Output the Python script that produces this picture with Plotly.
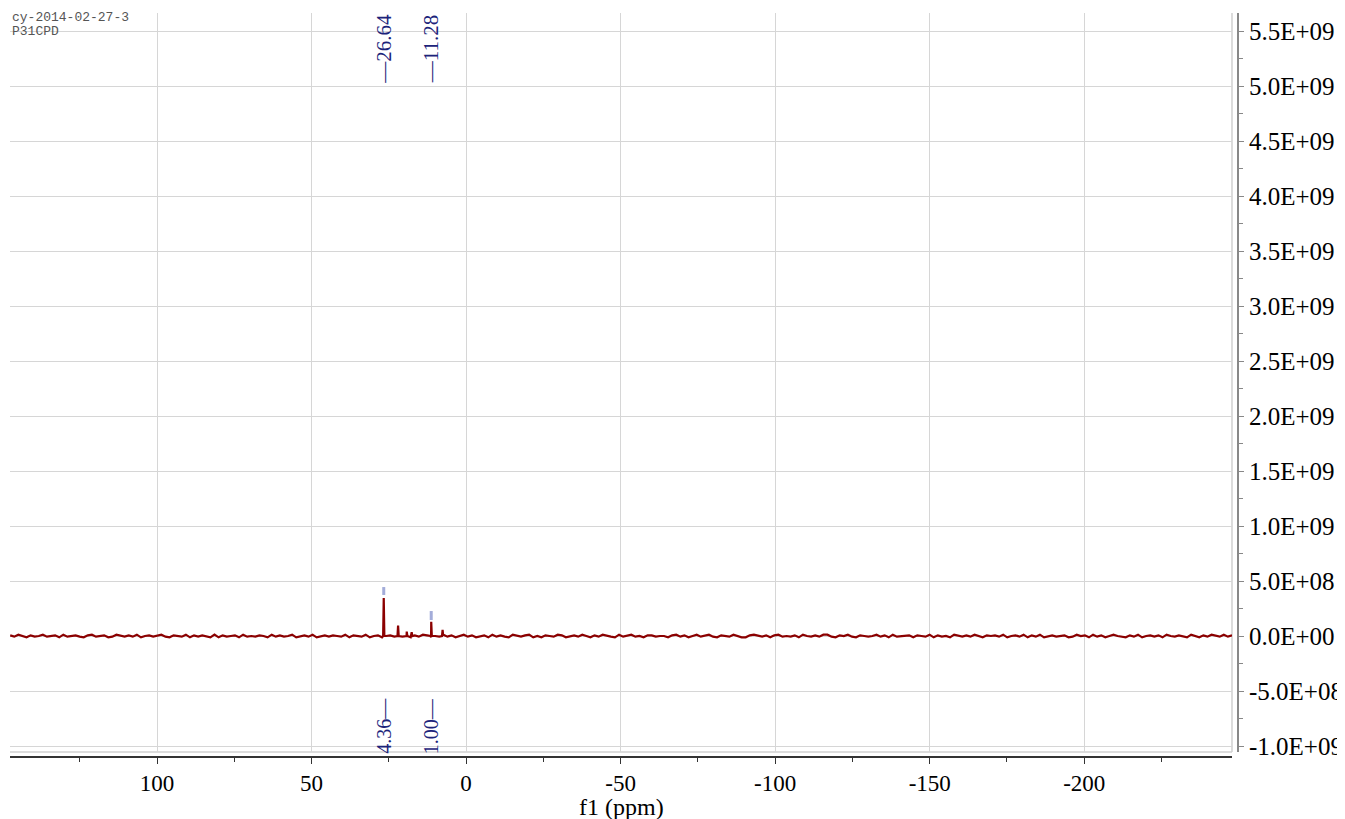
import numpy as np
import plotly.graph_objects as go

# ---------------- data ----------------
# baseline noise (units of 6e6)
noise_units = 6e6
noise_vals = [
    1, -1, 2, 0, -2, 1, -1, 0, 2, -1,
    0, 1, -2, 2, -1, 0, 1, -1, -2, 1,
    2, -1, 0, 1, -2, -1, 2, 0, -1, 1,
    -1, 2, -2, 0, 1, -1, 0, 2, -1, -2,
    1, 0, -1, 2, -2, 1, -1, 1, 0, -2,
    2, -2, 1, -1, 0, 1, -2, 2, -1, 0,
    -1, 1, 0, -2, 2, -1, 1, -1, 0, 2,
    -2, 0, 1, -1, 2, -2, 0, 1, -1, 1,
    0, -1, 2, -2, 1, 0, -1, 2, -2, 0,
    1, -2, 0, 1, -1, 2, -1, 0, -2, 1,
    -1, 2, 1, -2, 0, -1, 2, -1, 1, -2,
    0, 2, -1, 1, -2, 0, 1, -2, 2, -1,
    1, -1, -2, 2, 0, -1, 1, 2, -2, 0,
    -2, 1, 0, -1, 2, 1, -2, 0, 1, -1,
    2, 0, -2, 1, -1, 2, 0, -1, -2, 2,
    -1, 1, 2, -1, 0, -2, 1, 1, -1, 0,
    0, -2, 1, 2, -1, 1, -2, 0, 2, -1,
    1, 2, -1, -2, 1, 0, -1, 2, 0, -2,
    -2, 1, 2, 0, -1, 1, -2, 1, 2, -1,
    0, -1, 1, -2, 2, 0, -1, 1, -1, 2,
    2, -1, -2, 1, 0, 2, -1, -2, 1, 0,
    -1, 0, 2, -1, 1, -2, 2, -1, 0, 1,
    1, -2, 1, 0, -1, 2, -2, 1, -1, 0,
    -2, 2, 0, -1, 1, -1, 2, 0, -2, 1,
    0, 1, -1, 2, -2, 0, 1, -1, 2, -2,
    1, -1, 2, -2, 0, 1, -1, 0, 1, -2,
    -1, 2, 0, 1, -2, 2, -1, 1, -2, 0,
    2, 0, -1, -2, 1, -1, 2, -2, 0, 1,
    -1, 1, -2, 2, 0, -1, 1, 0, -2, 2,
    0, -2, 1, -1, 2, 0, -1, 2, -1, 1,
]
spectrum_start_ppm = 147.5
spectrum_end_ppm = -247.8

peak_ppm = [26.64, 22.0, 19.2, 17.6, 11.28, 7.6]
peak_height = [3.45e8, 0.95e8, 0.40e8, 0.35e8, 1.30e8, 0.55e8]

label_ppm = [26.64, 11.28]
label_text = ["26.64", "11.28"]
pick_low = [3.73e8, 1.45e8]
pick_high = [4.45e8, 2.27e8]

integral_ppm = [26.64, 11.28]
integral_text = ["4.36", "1.00"]

x_tick_vals = [100, 50, 0, -50, -100, -150, -200]
x_tick_text = ["100", "50", "0", "-50", "-100", "-150", "-200"]
y_tick_vals = [-1.0e9, -5.0e8, 0.0, 5.0e8, 1.0e9, 1.5e9, 2.0e9, 2.5e9, 3.0e9,
               3.5e9, 4.0e9, 4.5e9, 5.0e9, 5.5e9]
y_tick_text = ["-1.0E+09", "-5.0E+08", "0.0E+00", "5.0E+08", "1.0E+09", "1.5E+09",
               "2.0E+09", "2.5E+09", "3.0E+09", "3.5E+09", "4.0E+09", "4.5E+09",
               "5.0E+09", "5.5E+09"]

header_lines = ["cy-2014-02-27-3", "P31CPD"]
x_title = "f1 (ppm)"

# ---------------- build spectrum ----------------
grid = np.linspace(spectrum_start_ppm, spectrum_end_ppm, len(noise_vals))
pts = [(p, n * noise_units) for p, n in zip(grid, noise_vals)]
for p, h in zip(peak_ppm, peak_height):
    pts += [(p + 0.2, 0.0), (p, h), (p - 0.2, 0.0)]
pts.sort(key=lambda t: -t[0])
spec_x = [p for p, _ in pts]
spec_y = [v for _, v in pts]

pick_x, pick_y = [], []
for p, lo, hi in zip(label_ppm, pick_low, pick_high):
    pick_x += [p, p, None]
    pick_y += [lo, hi, None]

SERIF = "Liberation Serif"
NAVY = "#1c237a"

fig = go.Figure()
fig.add_trace(go.Scatter(x=spec_x, y=spec_y, mode="lines",
                         line=dict(color="#8b0000", width=2.2), hoverinfo="skip"))
fig.add_trace(go.Scatter(x=pick_x, y=pick_y, mode="lines",
                         line=dict(color="#a3acd9", width=3), hoverinfo="skip"))

annotations = []
for p, t in zip(label_ppm, label_text):
    annotations.append(dict(x=p, y=5.336e9, xref="x", yref="y", text="\u2014" + t,
                            textangle=-90, showarrow=False,
                            font=dict(family=SERIF, size=21, color=NAVY)))
for p, t in zip(integral_ppm, integral_text):
    annotations.append(dict(x=p, y=-0.818e9, xref="x", yref="y",
                            text=t + "\u2014",
                            textangle=-90, showarrow=False,
                            font=dict(family=SERIF, size=20, color=NAVY)))
annotations.append(dict(x=0.0, y=0.9933, xref="paper", yref="paper", text=header_lines[0],
                        xanchor="left", yanchor="middle", showarrow=False,
                        font=dict(family="Liberation Mono", size=13, color="#555555")))
annotations.append(dict(x=0.0, y=0.9745, xref="paper", yref="paper", text=header_lines[1],
                        xanchor="left", yanchor="middle", showarrow=False,
                        font=dict(family="Liberation Mono", size=13, color="#555555")))
annotations.append(dict(x=0.4976, y=-0.0672, xref="paper", yref="paper", text=x_title,
                        xanchor="center", yanchor="middle", showarrow=False,
                        font=dict(family=SERIF, size=24, color="black")))

# page body has an 8px margin, so the figure is offset by (8, 8)
fig.update_layout(
    width=1337, height=811,
    margin=dict(l=2, r=107, t=5, b=62),
    paper_bgcolor="white", plot_bgcolor="white",
    showlegend=False,
    annotations=annotations,
    xaxis=dict(domain=[0, 0.99511], range=[147.56, -247.8], anchor="free", position=0,
               showline=True, linecolor="#333333", linewidth=1.5,
               ticks="outside", ticklen=6, tickcolor="#333333",
               tickvals=x_tick_vals, ticktext=x_tick_text,
               tickfont=dict(family=SERIF, size=23, color="black"),
               showgrid=True, gridcolor="#d6d6d6", gridwidth=1, zeroline=False,
               minor=dict(ticks="outside", ticklen=4, tick0=0, dtick=25,
                          tickcolor="#333333", showgrid=False)),
    yaxis=dict(domain=[0.00672, 1], range=[-1.0545e9, 5.6636e9], side="right",
               anchor="free", position=1,
               showline=True, linecolor="#888888", linewidth=2,
               ticks="outside", ticklen=5, tickcolor="#888888",
               tickvals=y_tick_vals, ticktext=y_tick_text,
               tickfont=dict(family=SERIF, size=25, color="black"),
               showgrid=True, gridcolor="#d6d6d6", gridwidth=1, zeroline=False,
               minor=dict(ticks="outside", ticklen=4, tick0=0, dtick=2.5e8,
                          tickcolor="#888888", showgrid=False)),
    shapes=[
        dict(type="line", xref="x domain", yref="y domain", x0=0, x1=1, y0=0, y1=0,
             line=dict(color="#d0d0d0", width=1.5), layer="below"),
        dict(type="line", xref="x domain", yref="y domain", x0=1, x1=1, y0=0, y1=1,
             line=dict(color="#d0d0d0", width=1.5), layer="below"),
    ],
)

fig.write_html("out.html")
